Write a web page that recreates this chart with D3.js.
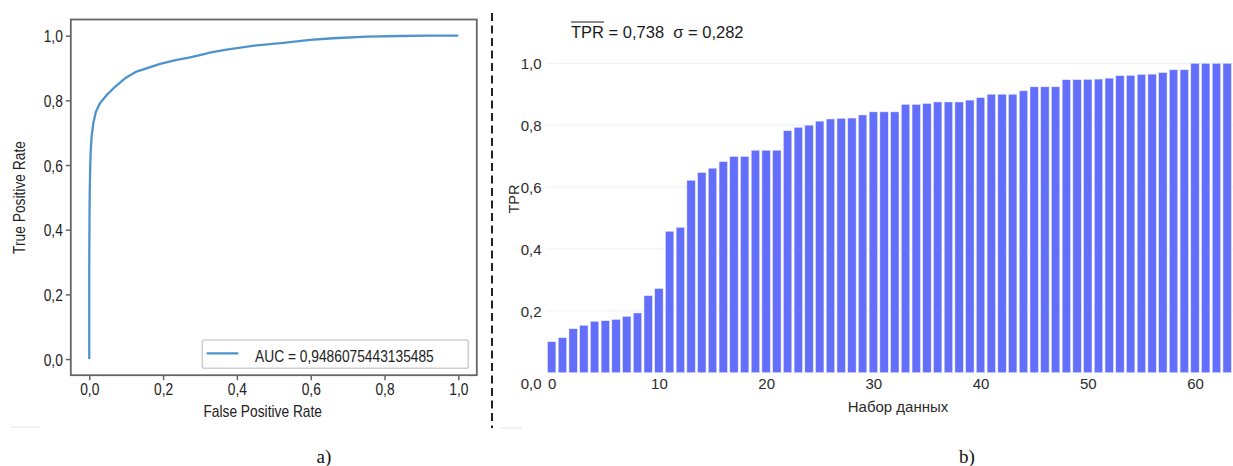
<!DOCTYPE html>
<html><head><meta charset="utf-8">
<script src="https://cdn.jsdelivr.net/npm/d3@7"></script>
<style>body{margin:0;background:#fff;overflow:hidden} svg{display:block}</style>
</head><body>
<svg id="c" width="1233" height="466"></svg>
<script>
// ---- data: ROC curve (panel a) ----
const rocFpr = [0, 0, 0.0008, 0.0015, 0.0025, 0.0036, 0.0063, 0.011, 0.018, 0.029, 0.047, 0.07, 0.097, 0.128, 0.155, 0.192, 0.237, 0.27, 0.3, 0.33, 0.372, 0.453, 0.526, 0.598, 0.661, 0.752, 0.842, 0.92, 1];
const rocTpr = [0, 0.30, 0.46, 0.53, 0.59, 0.636, 0.688, 0.729, 0.765, 0.791, 0.816, 0.842, 0.868, 0.889, 0.899, 0.913, 0.925, 0.932, 0.940, 0.948, 0.957, 0.970, 0.978, 0.987, 0.992, 0.997, 0.999, 1.0, 1.0];
const aucLabel = "AUC = 0,9486075443135485";
const rocTicks = [0, 0.2, 0.4, 0.6, 0.8, 1.0];

// ---- data: TPR per dataset (panel b) ----
const tprValues = [0.100,0.113,0.142,0.153,0.166,0.168,0.172,0.182,0.193,0.249,0.272,
  0.457,0.470,0.622,0.647,0.661,0.682,0.699,0.699,0.719,0.719,0.719,
  0.782,0.793,0.800,0.813,0.820,0.822,0.823,0.833,0.843,0.843,0.843,
  0.867,0.867,0.870,0.875,0.875,0.875,0.881,0.889,0.900,0.900,0.900,
  0.911,0.924,0.924,0.924,0.947,0.947,0.948,0.949,0.952,0.960,
  0.961,0.964,0.965,0.970,0.979,0.979,1,1,1,1,1];
const datasetIdx = tprValues.map((_, i) => i);
const barXTicks = [0, 10, 20, 30, 40, 50, 60];
const barYTicks = [0, 0.2, 0.4, 0.6, 0.8, 1.0];
const meanTPR = "0,738", sigmaTPR = "0,282";

const fmt = v => d3.format(".1f")(v).replace(".", ",");
const svg = d3.select("#c");

const regFont = "'Liberation Sans', Arial, sans-serif";

// ---------------- Panel a ----------------
const A = svg.append("g");
const xL = d3.scaleLinear([-0.05, 1.05], [70.8, 476.8]);
const yL = d3.scaleLinear([-0.05, 1.05], [375.2, 19.5]);

const gxL = A.append("g").attr("transform", `translate(0,${yL(-0.05)})`)
  .call(d3.axisBottom(xL).tickValues(rocTicks).tickFormat(fmt).tickSize(5).tickPadding(3));
const gyL = A.append("g").attr("transform", `translate(${xL(-0.05)},0)`)
  .call(d3.axisLeft(yL).tickValues(rocTicks).tickFormat(fmt).tickSize(5).tickPadding(3));
[gxL, gyL].forEach(g => {
  g.select(".domain").remove();
  g.selectAll(".tick line").attr("stroke", "#666").attr("stroke-width", 1.5);
  g.selectAll(".tick text").attr("fill", "#222").style("font-family", regFont).style("font-size", "17px");
});
gyL.selectAll(".tick text").attr("dy", "0.36em");

A.append("path")
  .datum(rocFpr.map((f, i) => [f, rocTpr[i]]))
  .attr("fill", "none").attr("stroke", "#4f93cc").attr("stroke-width", 2.3)
  .attr("stroke-linejoin", "round")
  .attr("d", d3.line().x(d => xL(d[0])).y(d => yL(d[1])));

A.append("rect").attr("x", xL(-0.05)).attr("y", yL(1.05))
  .attr("width", xL(1.05) - xL(-0.05)).attr("height", yL(-0.05) - yL(1.05))
  .attr("fill", "none").attr("stroke", "#666").attr("stroke-width", 1.8);

// legend
const lg = A.append("g");
lg.append("rect").attr("x", 202.3).attr("y", 340).attr("width", 266).attr("height", 28.3)
  .attr("rx", 2).attr("fill", "#fff").attr("fill-opacity", 0.85).attr("stroke", "#cfcfcf").attr("stroke-width", 1.6);
lg.append("line").attr("x1", 206.7).attr("x2", 238.3).attr("y1", 353.3).attr("y2", 353.3)
  .attr("stroke", "#4f93cc").attr("stroke-width", 2.3);
lg.append("text").attr("x", 255).attr("y", 361.7).text(aucLabel)
  .attr("fill", "#222").style("font-family", regFont).style("font-size", "17px");

A.append("text").attr("x", 262.7).attr("y", 417).attr("text-anchor", "middle")
  .text("False Positive Rate").attr("fill", "#222")
  .style("font-family", regFont).style("font-size", "17px");
A.append("text").attr("transform", "translate(25,197.5) rotate(-90)").attr("text-anchor", "middle")
  .text("True Positive Rate").attr("fill", "#222")
  .style("font-family", regFont).style("font-size", "17px");

// condensed look of panel a text
A.selectAll("text").each(function () {
  const L = this.getComputedTextLength();
  d3.select(this).attr("textLength", L * 0.81).attr("lengthAdjust", "spacingAndGlyphs");
});

A.append("line").attr("x1", 10).attr("x2", 40).attr("y1", 427).attr("y2", 427)
  .attr("stroke", "#e6e6e6").attr("stroke-width", 1);
A.append("text").attr("x", 324).attr("y", 463).attr("text-anchor", "middle").text("a)")
  .attr("fill", "#111").style("font-family", "'Liberation Serif', 'DejaVu Serif', serif").style("font-size", "19px");

// ---------------- separator ----------------
svg.append("line").attr("x1", 492).attr("x2", 492).attr("y1", 13).attr("y2", 428)
  .attr("stroke", "#222").attr("stroke-width", 2).attr("stroke-dasharray", "8,4.5");

// ---------------- Panel b ----------------
const B = svg.append("g");
const xR = d3.scaleLinear([0, 60], [551.7, 1195]);
const yR = d3.scaleLinear([0, 1], [372.7, 63.3]);
const plotLeft = 546;

B.append("g").selectAll("line").data(barYTicks.filter(v => v > 0)).join("line")
  .attr("x1", plotLeft).attr("x2", 1233).attr("y1", d => yR(d)).attr("y2", d => yR(d))
  .attr("stroke", "#ebf0f8").attr("stroke-width", 1);

const bw = xR(0.78) - xR(0);
B.append("g").selectAll("rect").data(datasetIdx).join("rect")
  .attr("x", i => xR(i) - bw / 2).attr("width", bw)
  .attr("y", i => yR(tprValues[i])).attr("height", i => yR(0) - yR(tprValues[i]))
  .attr("fill", "#636efa").attr("stroke", "#e5ecf6").attr("stroke-width", 0.5);

const gyR = B.append("g").attr("transform", `translate(${plotLeft},0)`)
  .call(d3.axisLeft(yR).tickValues(barYTicks).tickFormat(fmt).tickSize(0).tickPadding(4.5));
const gxR = B.append("g").attr("transform", `translate(0,${yR(0)})`)
  .call(d3.axisBottom(xR).tickValues(barXTicks).tickFormat(d3.format("d")).tickSize(0).tickPadding(5.5));
[gxR, gyR].forEach(g => {
  g.select(".domain").remove();
  g.selectAll(".tick text").attr("fill", "#2b2b2b").style("font-family", regFont).style("font-size", "15px");
});
gyR.selectAll(".tick text").attr("dy", d => d === 0 ? "1.05em" : "0.36em");

B.append("text").attr("x", 898).attr("y", 412.3).attr("text-anchor", "middle")
  .text("Набор данных").attr("fill", "#2b2b2b").style("font-family", regFont).style("font-size", "15px");
B.append("text").attr("transform", "translate(519,199) rotate(-90)").attr("text-anchor", "middle")
  .text("TPR").attr("fill", "#2b2b2b").style("font-family", regFont).style("font-size", "14.5px");

const title = B.append("text").attr("x", 571).attr("y", 38.3).attr("fill", "#1a1a1a")
  .style("font-family", regFont).style("font-size", "16.5px");
const tpTs = title.append("tspan").text("TPR");
title.append("tspan").text(" = " + meanTPR + "\u00a0\u00a0σ = " + sigmaTPR);
const wT = tpTs.node().getComputedTextLength();
B.append("line").attr("x1", 571).attr("x2", 571 + wT).attr("y1", 22).attr("y2", 22)
  .attr("stroke", "#1a1a1a").attr("stroke-width", 1.2);

B.append("line").attr("x1", 500).attr("x2", 522).attr("y1", 428).attr("y2", 428)
  .attr("stroke", "#e6e6e6").attr("stroke-width", 1);
B.append("text").attr("x", 967).attr("y", 463).attr("text-anchor", "middle").text("b)")
  .attr("fill", "#111").style("font-family", "'Liberation Serif', 'DejaVu Serif', serif").style("font-size", "19px");
</script>
</body></html>
